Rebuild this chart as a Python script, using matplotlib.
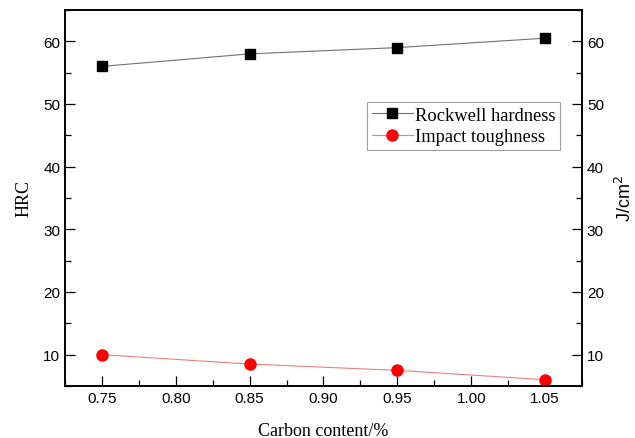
import matplotlib
matplotlib.use('Agg')
import matplotlib.pyplot as plt
from matplotlib.ticker import MultipleLocator

carbon = [0.75, 0.85, 0.95, 1.05]
hardness = [56.0, 58.0, 59.0, 60.5]
toughness = [10.0, 8.5, 7.5, 6.0]

serif = 'Liberation Serif'
sans = 'Liberation Sans'

fig = plt.figure(figsize=(6.35, 4.39), dpi=100)
ax = fig.add_axes([65 / 635, 1 - 387 / 439, 517 / 635, 376 / 439])
ax2 = ax.twinx()

l1, = ax.plot(carbon, hardness, color='#707070', lw=0.8, marker='s', ms=7,
              mfc='black', mec='black', label='Rockwell hardness')
l2, = ax2.plot(carbon, toughness, color='#e88080', lw=0.8, marker='o', ms=8,
               mfc='red', mec='red', label='Impact toughness')

for a in (ax, ax2):
    a.set_xlim(0.725, 1.075)
    a.set_ylim(5, 65)
    a.yaxis.set_major_locator(MultipleLocator(10))
    a.yaxis.set_minor_locator(MultipleLocator(5))
    for s in a.spines.values():
        s.set_linewidth(1.2)

ax.xaxis.set_major_locator(MultipleLocator(0.05))
ax.xaxis.set_minor_locator(MultipleLocator(0.025))
ax.set_xticks([0.75, 0.80, 0.85, 0.90, 0.95, 1.00, 1.05])
ax.set_xticklabels(['0.75', '0.80', '0.85', '0.90', '0.95', '1.00', '1.05'])

ax.tick_params(axis='both', which='major', direction='in', length=7, width=0.9,
               labelsize=11, top=False)
ax.tick_params(axis='both', which='minor', direction='in', length=4, width=0.9, top=False)
ax.tick_params(axis='y', right=False)
ax2.tick_params(axis='y', which='major', direction='in', length=7, width=0.9, labelsize=11)
ax2.tick_params(axis='y', which='minor', direction='in', length=4, width=0.9)

for lab in ax.get_xticklabels() + ax.get_yticklabels() + ax2.get_yticklabels():
    lab.set_fontfamily(sans)

ax.set_xlabel('Carbon content/%', fontfamily=serif, fontsize=13, labelpad=12)
ax.set_ylabel('HRC', fontfamily=serif, fontsize=13, labelpad=8)
ax2.set_ylabel('J/cm$^2$', fontfamily=sans, fontsize=13, labelpad=8)

leg = ax.legend(handles=[l1, l2], loc='upper left', bbox_to_anchor=(0.585, 0.755),
                prop={'family': serif, 'size': 13.3}, frameon=True, fancybox=False,
                handlelength=2.2, handletextpad=0.1, borderpad=0.25, labelspacing=0.25,
                borderaxespad=0)
leg.get_frame().set_edgecolor('#888888')
leg.get_frame().set_linewidth(0.8)

plt.savefig('out.png', dpi=100)
